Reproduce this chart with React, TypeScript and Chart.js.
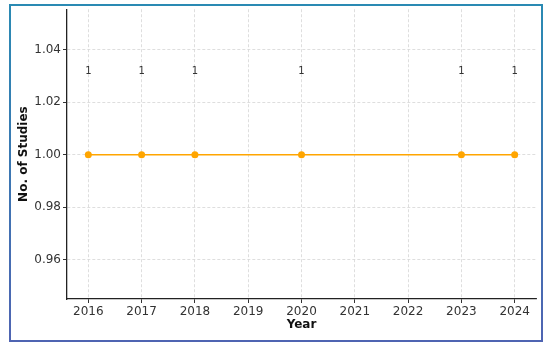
import React, { useEffect, useRef } from "react";
import { Chart, registerables } from "chart.js";

Chart.register(...registerables);

const years = [2016, 2017, 2018, 2020, 2023, 2024];
const studies = [1, 1, 1, 1, 1, 1];
const xTicks = [2016, 2017, 2018, 2019, 2020, 2021, 2022, 2023, 2024];
const yTicks = [0.96, 0.98, 1.0, 1.02, 1.04];

const FONT = "'DejaVu Sans', sans-serif";

const framePlugin = {
  id: "frame",
  beforeDraw(chart: any) {
    const ctx = chart.ctx;
    ctx.save();
    ctx.fillStyle = "#ffffff";
    ctx.fillRect(0, 0, chart.width, chart.height);
    ctx.restore();
  },
  afterDraw(chart: any) {
    const ctx = chart.ctx;
    ctx.save();
    const g = ctx.createLinearGradient(0, 5, 0, 341);
    g.addColorStop(0, "#2a8ab3");
    g.addColorStop(1, "#4f64b2");
    ctx.strokeStyle = g;
    ctx.lineWidth = 2;
    ctx.strokeRect(10, 5, 532, 336);
    ctx.restore();
  },
};

const labelPlugin = {
  id: "valueLabels",
  afterDatasetsDraw(chart: any) {
    const ctx = chart.ctx;
    const xs = chart.scales.x;
    const ys = chart.scales.y;
    ctx.save();
    ctx.font = `10px ${FONT}`;
    ctx.fillStyle = "#333333";
    ctx.textAlign = "center";
    ctx.textBaseline = "middle";
    years.forEach((yr, i) => {
      const v = studies[i];
      ctx.fillText(String(v), xs.getPixelForValue(yr), ys.getPixelForValue(v + 0.0317));
    });
    ctx.restore();
  },
};

export default function App() {
  const ref = useRef<HTMLCanvasElement>(null);
  useEffect(() => {
    document.body.style.margin = "0";
    const chart = new Chart(ref.current!, {
      type: "line",
      data: {
        datasets: [
          {
            data: years.map((y, i) => ({ x: y, y: studies[i] })),
            borderColor: "#ffa500",
            backgroundColor: "#ffa500",
            borderWidth: 1.6,
            pointRadius: 3.5,
            pointBorderWidth: 0,
            pointBackgroundColor: "#ffa500",
            tension: 0,
          },
        ],
      },
      options: {
        animation: false,
        responsive: false,
        layout: { padding: { top: 7, right: 14, left: 0, bottom: 0 } },
        plugins: { legend: { display: false }, tooltip: { enabled: false } },
        scales: {
          x: {
            type: "linear",
            min: 2015.6,
            max: 2024.4,
            afterBuildTicks: (s: any) => {
              s.ticks = xTicks.map((v) => ({ value: v }));
            },
            afterFit: (s: any) => {
              s.height = 51;
            },
            ticks: {
              callback: (v: any) => String(v),
              font: { family: FONT, size: 12 },
              color: "#333333",
              padding: 2,
              maxRotation: 0,
              autoSkip: false,
            },
            grid: { color: "#d6d6d6", lineWidth: 0.8, tickColor: "#333333", tickLength: 4, tickWidth: 1 },
            border: { color: "#222222", width: 1.3, dash: [3, 2] },
            title: {
              display: true,
              text: "Year",
              font: { family: FONT, size: 12, weight: "bold" },
              color: "#111111",
              padding: { top: 0, bottom: 18 },
            },
          },
          y: {
            type: "linear",
            min: 0.945,
            max: 1.0555,
            afterBuildTicks: (s: any) => {
              s.ticks = yTicks.map((v) => ({ value: v }));
            },
            afterFit: (s: any) => {
              s.width = 67;
            },
            ticks: {
              callback: (v: any) => Number(v).toFixed(2),
              font: { family: FONT, size: 12 },
              color: "#333333",
              padding: 2,
            },
            grid: { color: "#d6d6d6", lineWidth: 0.8, tickColor: "#333333", tickLength: 4, tickWidth: 1 },
            border: { color: "#222222", width: 1.3, dash: [3, 2] },
            title: {
              display: true,
              text: "No. of Studies",
              font: { family: FONT, size: 12, weight: "bold" },
              color: "#111111",
              padding: { top: 17, bottom: 0 },
            },
          },
        },
      },
      plugins: [framePlugin, labelPlugin],
    });
    return () => chart.destroy();
  }, []);
  return <canvas ref={ref} width={550} height={350} style={{ display: "block" }} />;
}
